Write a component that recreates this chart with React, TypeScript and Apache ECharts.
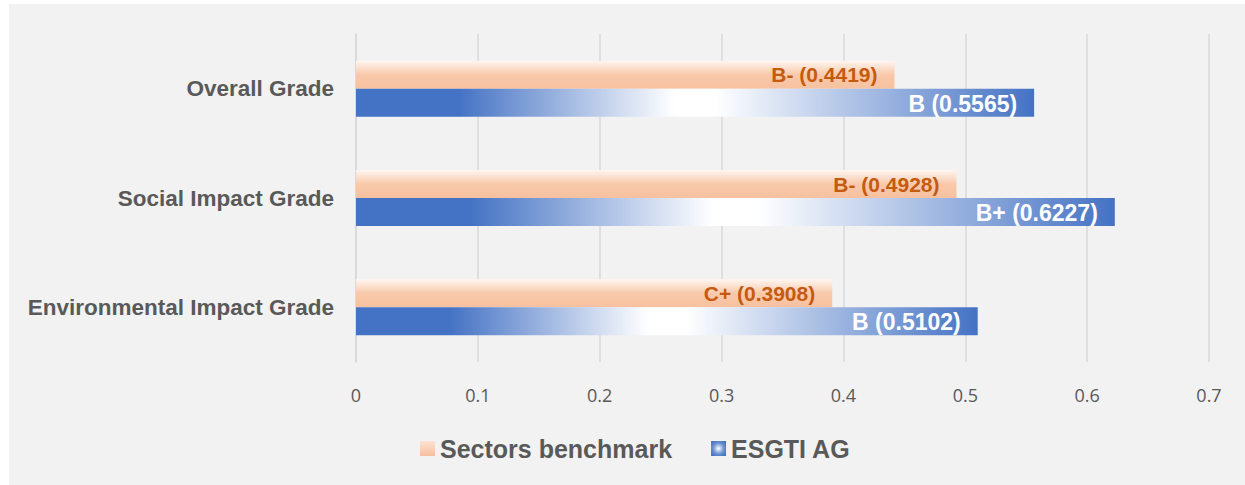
import React, { useEffect, useRef } from "react";
import * as echarts from "echarts";

const categories = ["Overall Grade", "Social Impact Grade", "Environmental Impact Grade"];
const benchmarkValues = [0.4419, 0.4928, 0.3908];
const benchmarkGrades = ["B-", "B-", "C+"];
const esgtiValues = [0.5565, 0.6227, 0.5102];
const esgtiGrades = ["B", "B+", "B"];
const seriesNames = ["Sectors benchmark", "ESGTI AG"];
const xTicks = { min: 0, max: 0.7, interval: 0.1 };

const FONT = "'Liberation Sans', Arial, Helvetica, sans-serif";

export default function App() {
  const ref = useRef<HTMLDivElement>(null);
  useEffect(() => {
    if (!ref.current) return;
    const chart = echarts.init(ref.current, undefined, { renderer: "svg" });
    const orangeGrad = new echarts.graphic.LinearGradient(0, 0, 0, 1, [
      { offset: 0, color: "#fff6f1" },
      { offset: 0.5, color: "#f8c9aa" },
      { offset: 1, color: "#f6c1a0" },
    ]);
    const blueGrad = new echarts.graphic.LinearGradient(0, 0, 1, 0, [
      { offset: 0, color: "#4472c4" },
      { offset: 0.15, color: "#4472c4" },
      { offset: 0.47, color: "#ffffff" },
      { offset: 0.53, color: "#ffffff" },
      { offset: 1, color: "#4472c4" },
    ]);
    const blueRadial = new echarts.graphic.RadialGradient(0.5, 0.5, 0.6, [
      { offset: 0, color: "#ffffff" },
      { offset: 0.6, color: "#6d91d2" },
      { offset: 1, color: "#4472c4" },
    ]);
    const orangeLegend = new echarts.graphic.LinearGradient(0, 0, 0, 1, [
      { offset: 0, color: "#fde3d3" },
      { offset: 1, color: "#f6bf9c" },
    ]);
    chart.setOption({
      animation: false,
      backgroundColor: "#f2f2f2",
      grid: { left: 347, right: 36, top: 30, bottom: 123, containLabel: false },
      legend: {
        left: 411,
        top: 432,
        padding: 0,
        itemWidth: 15,
        itemHeight: 15,
        itemGap: 39,
        icon: "rect",
        textStyle: { color: "#595959", fontSize: 25, fontWeight: "bold", fontFamily: FONT },
        data: [
          { name: seriesNames[0], itemStyle: { color: orangeLegend } },
          { name: seriesNames[1], itemStyle: { color: blueRadial } },
        ],
      },
      xAxis: {
        type: "value",
        min: xTicks.min,
        max: xTicks.max,
        interval: xTicks.interval,
        axisLine: { show: false },
        axisTick: { show: false },
        splitLine: { show: true, lineStyle: { color: "#d9d9d9", width: 1.5 } },
        axisLabel: {
          color: "#595959",
          fontSize: 18,
          margin: 24,
          fontFamily: "'Open Sans', sans-serif",
        },
      },
      yAxis: {
        type: "category",
        data: categories,
        inverse: true,
        axisLine: { show: true, lineStyle: { color: "#d9d9d9", width: 1.5 } },
        axisTick: { show: false },
        splitLine: { show: false },
        axisLabel: {
          color: "#595959",
          fontSize: 22.5,
          fontWeight: "bold",
          margin: 22,
          fontFamily: FONT,
        },
      },
      series: [
        {
          name: seriesNames[0],
          type: "bar",
          data: benchmarkValues,
          barWidth: 28,
          barGap: "0%",
          itemStyle: { color: orangeGrad },
          label: {
            show: true,
            position: "insideRight",
            distance: 17,
            color: "#c55a11",
            fontSize: 21,
            fontWeight: "bold",
            fontFamily: FONT,
            formatter: (p: any) => `${benchmarkGrades[p.dataIndex]} (${benchmarkValues[p.dataIndex].toFixed(4)})`,
          },
        },
        {
          name: seriesNames[1],
          type: "bar",
          data: esgtiValues,
          barWidth: 28,
          barGap: "0%",
          itemStyle: { color: blueGrad },
          label: {
            show: true,
            position: "insideRight",
            distance: 17,
            offset: [0, 1],
            color: "#ffffff",
            fontSize: 23,
            fontWeight: "bold",
            fontFamily: FONT,
            formatter: (p: any) => `${esgtiGrades[p.dataIndex]} (${esgtiValues[p.dataIndex].toFixed(4)})`,
          },
        },
      ],
    });
    return () => chart.dispose();
  }, []);
  return (
    <div
      ref={ref}
      style={{ position: "absolute", left: 9, top: 4, width: 1236, height: 481 }}
    />
  );
}
